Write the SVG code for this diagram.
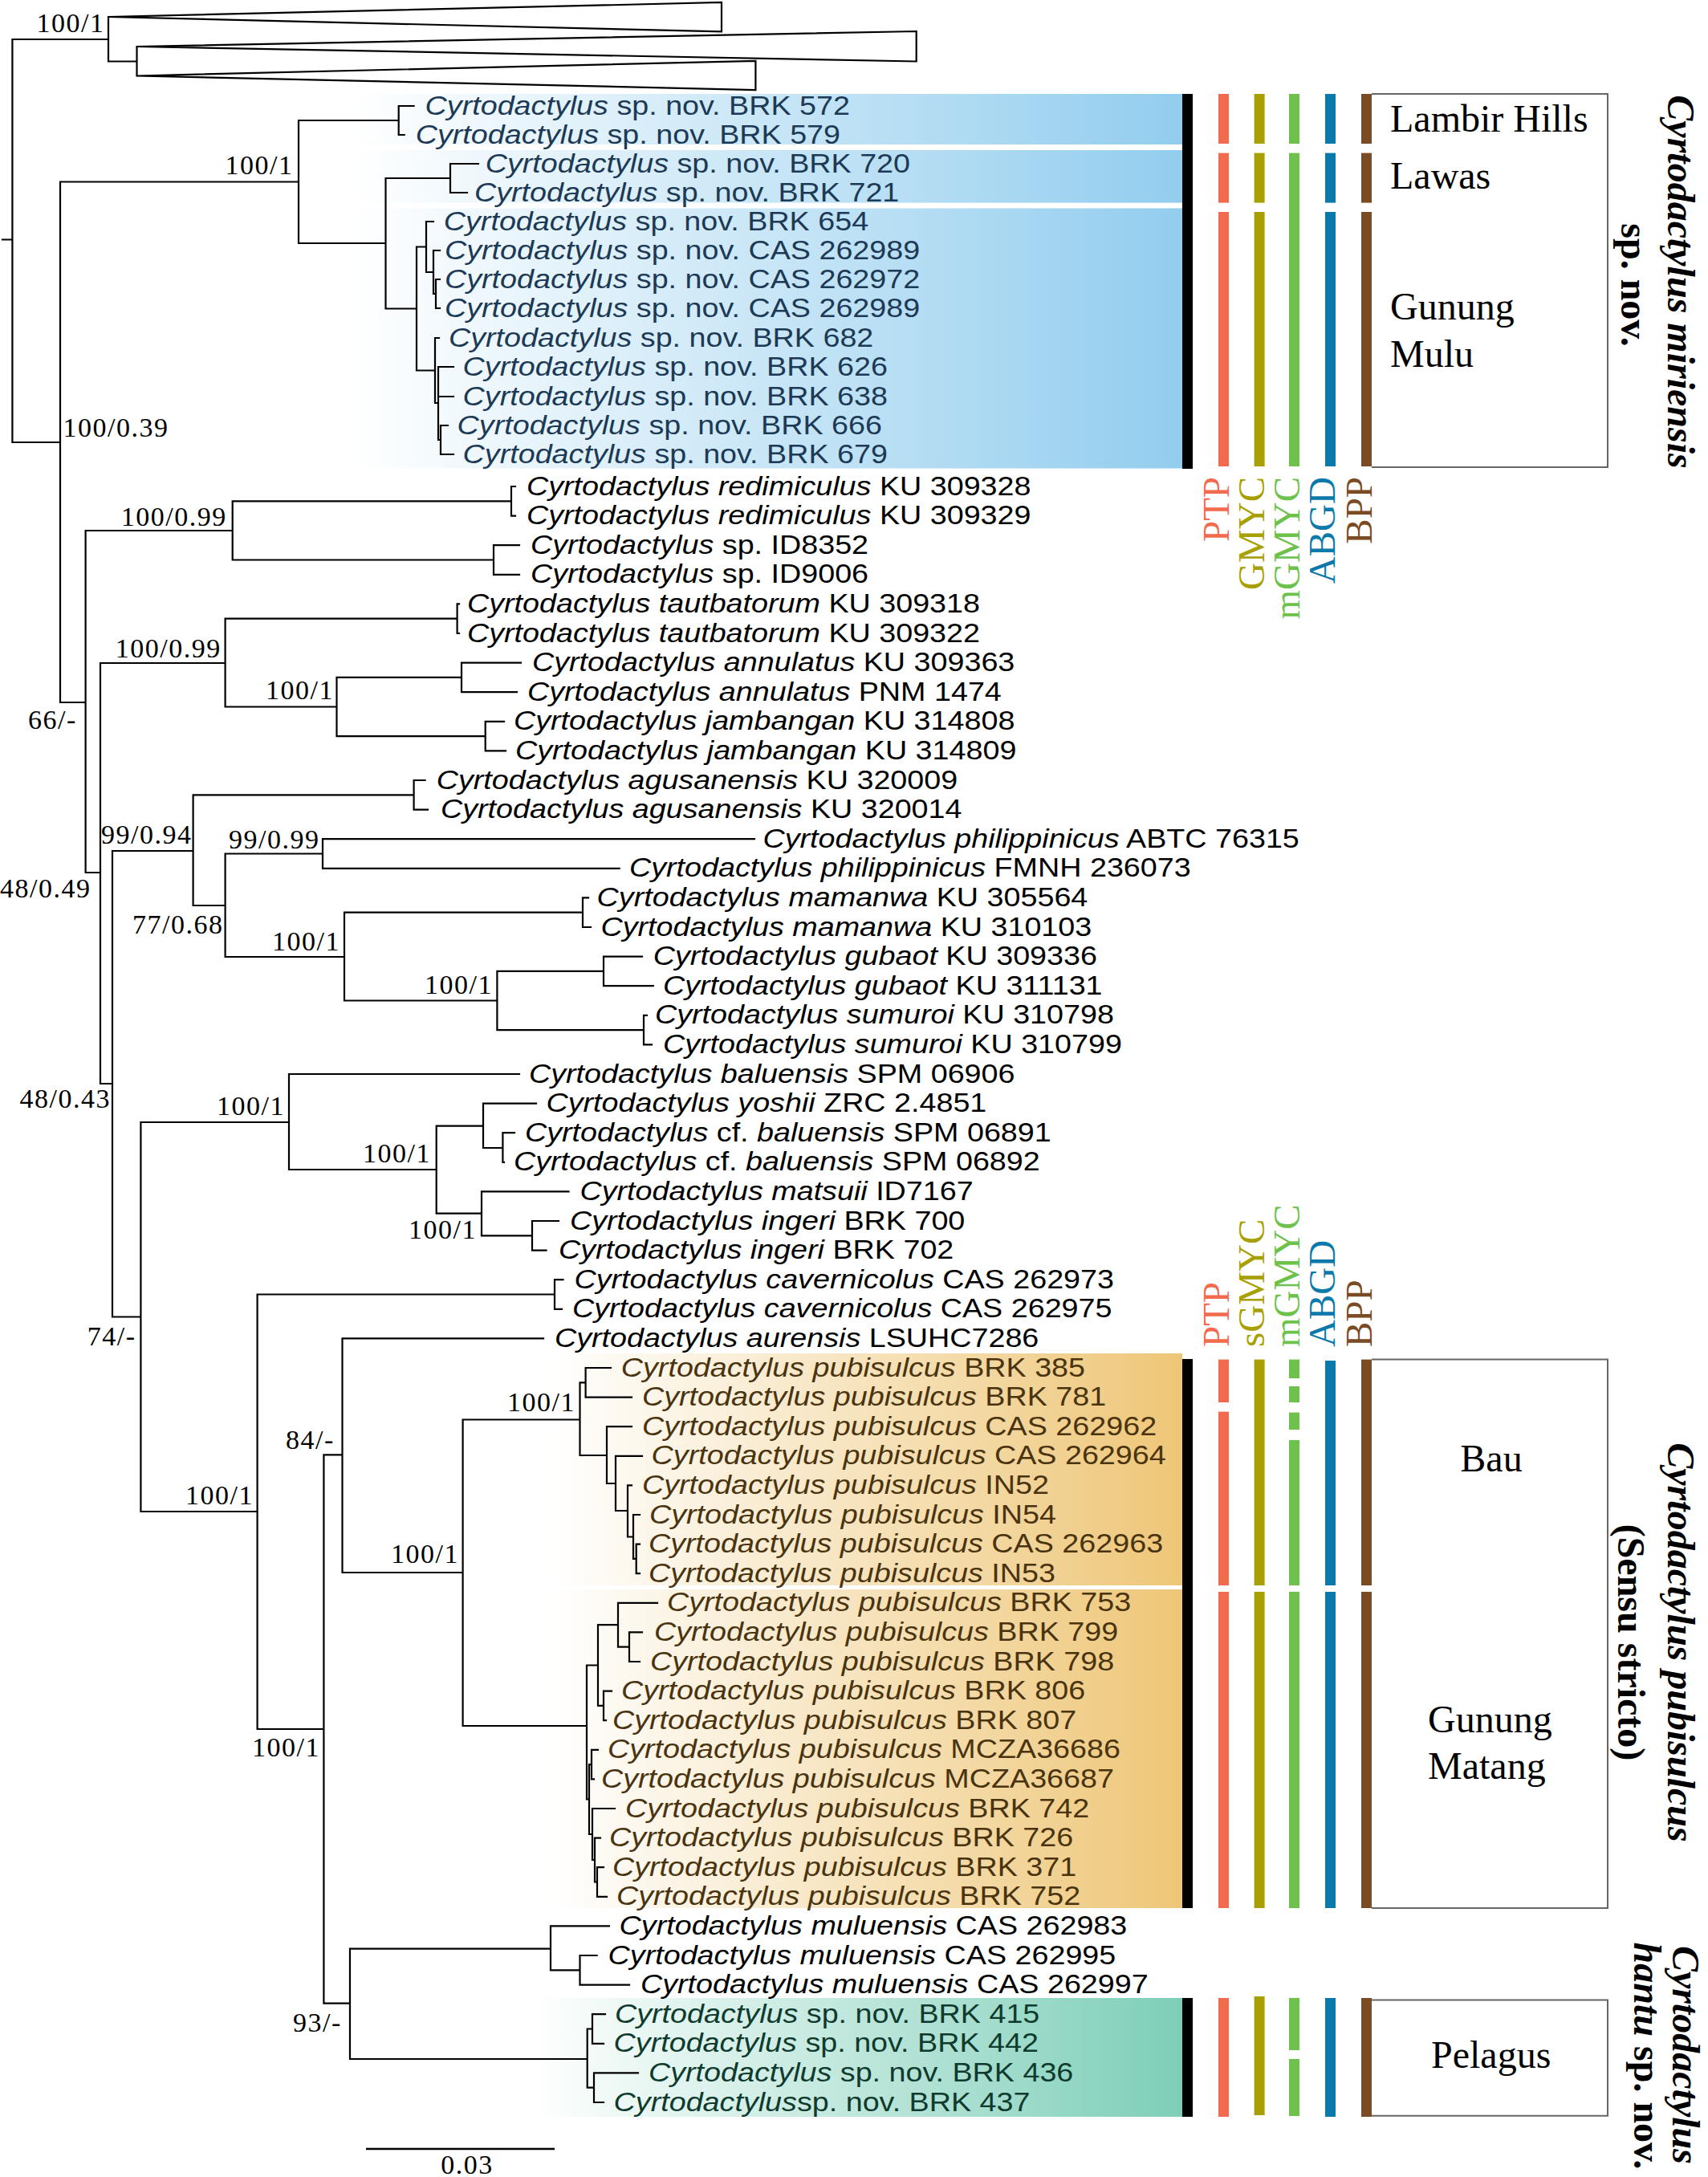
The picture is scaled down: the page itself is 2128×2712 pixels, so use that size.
<svg xmlns="http://www.w3.org/2000/svg" width="2128" height="2712" viewBox="0 0 2128 2712">
<defs>
<style>
.lf{font-family:"Liberation Sans",Arial,sans-serif;font-size:32.5px;fill:#000}
.i{font-style:italic}
.b{fill:#1c3a55}
.o{fill:#4a3410}
.g{fill:#0e3b2e}
.bs{font-family:"Liberation Serif","Times New Roman",serif;font-size:34px;letter-spacing:1.5px;fill:#000}
.loc{font-family:"Liberation Serif","Times New Roman",serif;font-size:48px;fill:#000}
.hd{font-family:"Liberation Serif","Times New Roman",serif;font-size:47px}
.ttl{font-family:"Liberation Serif","Times New Roman",serif;font-size:48px;font-weight:bold;fill:#000}
.edge{fill:none;stroke:#000;stroke-width:2.2;stroke-linecap:square}
.tri{fill:none;stroke:#000;stroke-width:2.2;stroke-linejoin:miter}
.box{fill:none;stroke:#666;stroke-width:2}
.ptp{fill:#f26b4e}.gm{fill:#a89f00}.mg{fill:#6cc24a}.ab{fill:#0b79a9}.bp{fill:#7b4b24}
</style>
<linearGradient id="gBlue" gradientUnits="userSpaceOnUse" x1="440" y1="0" x2="1473" y2="0">
<stop offset="0" stop-color="#ffffff"/><stop offset="1" stop-color="#92cdee"/>
</linearGradient>
<linearGradient id="gOr" gradientUnits="userSpaceOnUse" x1="690" y1="0" x2="1473" y2="0">
<stop offset="0" stop-color="#ffffff"/><stop offset="1" stop-color="#eec677"/>
</linearGradient>
<linearGradient id="gGr" gradientUnits="userSpaceOnUse" x1="666" y1="0" x2="1473" y2="0">
<stop offset="0" stop-color="#ffffff"/><stop offset="1" stop-color="#7dceb8"/>
</linearGradient>
</defs>
<rect width="2128" height="2712" fill="#fff"/>

<g id="highlights">
<rect x="440" y="117" width="1033" height="63" fill="url(#gBlue)"/>
<rect x="440" y="187" width="1033" height="65.6" fill="url(#gBlue)"/>
<rect x="440" y="259.5" width="1033" height="324" fill="url(#gBlue)"/>
<rect x="690" y="1686" width="783" height="289" fill="url(#gOr)"/>
<rect x="690" y="1980" width="783" height="397" fill="url(#gOr)"/>
<rect x="666" y="2489" width="807" height="148" fill="url(#gGr)"/>
</g>

<g id="connectors">
<polygon class="tri" points="135,21 899,3 899,39.4"/>
<polygon class="tri" points="170.5,58 1141.7,39 1141.7,76.5"/>
<polygon class="tri" points="170.5,94.5 941.4,75.8 941.4,112"/>
<path class="edge" d="M3,298.5 H15.4 M15.4,49 V551 M15.4,49 H135 M135,21 V76.5 M135,76.5 H170.5 M170.5,58 V94.5
M15.4,551 H75 M75,226.5 V875 M75,226.5 H372 M372,150 V303 M372,150 H496.7 M496.7,132 V168 M496.7,132 H515.6 M496.7,168 H503.7
M372,303 H480.5 M480.5,222 V384.5 M480.5,222 H561 M561,204 V240 M561,204 H596 M561,240 H582
M480.5,384.5 H519 M519,307.5 V461.5 M519,307.5 H531 M531,276 V339 M531,276 H540 M531,339 H540 M540,312 V366 M540,312 H548 M540,366 H543 M543,348 V384 M543,348 H548 M543,384 H548
M519,461.5 H542 M542,421 V502 M542,421 H547 M542,502 H546 M546,457 V548 M546,457 H565 M546,494 H565 M546,548 H549 M549,530 V566 M549,530 H558 M549,566 H565
M75,875 H106.6 M106.6,661 V1087 M106.6,661 H289.7 M289.7,624.3 V697.5 M289.7,624.3 H637 M637,606 V642.6 M637,606 H642 M637,642.6 H642
M289.7,697.5 H615 M615,679.2 V715.8 M615,679.2 H647 M615,715.8 H647
M106.6,1087 H125 M125,826 V1350 M125,826 H280.6 M280.6,770.7 V880.5 M280.6,770.7 H569.6 M569.6,752.4 V789 M569.6,752.4 H572 M569.6,789 H572
M280.6,880.5 H419.5 M419.5,843.9 V917.1 M419.5,843.9 H575 M575,825.6 V862.2 M575,825.6 H649 M575,862.2 H644
M419.5,917.1 H604.7 M604.7,898.8 V935.4 M604.7,898.8 H628 M604.7,935.4 H630
M125,1350 H140 M140,1060 V1640.5 M140,1060 H240.6 M240.6,990.3 V1128 M240.6,990.3 H515.6 M515.6,972 V1008.6 M515.6,972 H529.6 M515.6,1008.6 H533
M240.6,1128 H280.6 M280.6,1063.5 V1192 M280.6,1063.5 H402 M402,1045.2 V1081.8 M402,1045.2 H940 M402,1081.8 H771.6
M280.6,1192 H429 M429,1136.7 V1246.5 M429,1136.7 H726 M726,1118.4 V1155 M726,1118.4 H733 M726,1155 H736
M429,1246.5 H619.4 M619.4,1209.9 V1283.1 M619.4,1209.9 H752 M752,1191.6 V1228.2 M752,1191.6 H800 M752,1228.2 H813.8
M619.4,1283.1 H802 M802,1264.8 V1301.4 M802,1264.8 H806 M802,1301.4 H812
M140,1640.5 H175.4 M175.4,1398 V1883 M175.4,1398 H360 M360,1338 V1457 M360,1338 H647 M360,1457 H543.7
M543.7,1402.7 V1511.6 M543.7,1402.7 H602 M602,1374.6 V1430 M602,1374.6 H668 M602,1430 H626.4 M626.4,1411.2 V1447.8 M626.4,1411.2 H641 M626.4,1447.8 H628
M543.7,1511.6 H600 M600,1484.4 V1539.3 M600,1484.4 H708.5 M600,1539.3 H663 M663,1521 V1557.6 M663,1521 H696 M663,1557.6 H680.5
M175.4,1883 H320.6 M320.6,1612.5 V2154 M320.6,1612.5 H691 M691,1594.2 V1630.8 M691,1594.2 H701.5 M691,1630.8 H700
M320.6,2154 H403.4 M403.4,1812.4 V2495.6 M403.4,1812.4 H426.5 M426.5,1667.4 V1959 M426.5,1667.4 H677 M426.5,1959 H576.6
M576.6,1768.5 V2150 M576.6,1768.5 H722.5 M722.5,1722.3 V1813 M722.5,1722.3 H729.6 M729.6,1704 V1740.6 M729.6,1704 H761 M729.6,1740.6 H787
M722.5,1813 H756 M756,1777.2 V1848 M756,1777.2 H787 M756,1848 H767 M767,1813.8 V1882 M767,1813.8 H800 M767,1882 H782
M782,1850.4 V1914.5 M782,1850.4 H787 M782,1914.5 H789 M789,1887 V1941.9 M789,1887 H797 M789,1941.9 H792.7 M792.7,1923.6 V1960.2 M792.7,1923.6 H797 M792.7,1960.2 H797
M576.6,2150 H731 M731,2074.5 V2241.5 M731,2074.5 H745 M745,2024.2 V2124.9 M745,2024.2 H770 M770,1996.8 V2051.7 M770,1996.8 H819 M770,2051.7 H784 M784,2033.4 V2070 M784,2033.4 H800 M784,2070 H797
M745,2124.9 H752 M752,2106.6 V2143.2 M752,2106.6 H762 M752,2143.2 H755
M731,2241.5 H734 M734,2198.1 V2285 M734,2198.1 H737 M737,2179.8 V2216.4 M737,2179.8 H745 M737,2216.4 H740
M734,2285 H738 M738,2253 V2317 M738,2253 H766 M738,2317 H741 M741,2289.6 V2344.5 M741,2289.6 H748 M741,2344.5 H744 M744,2326.2 V2362.8 M744,2326.2 H752 M744,2362.8 H756
M403.4,2495.6 H436 M436,2427.7 V2565 M436,2427.7 H686 M686,2399.4 V2454.3 M686,2399.4 H759 M686,2454.3 H722.5 M722.5,2436 V2472.6 M722.5,2436 H743.6 M722.5,2472.6 H784
M436,2565 H731.7 M731.7,2527.5 V2600.7 M731.7,2527.5 H738 M738,2509.2 V2545.8 M738,2509.2 H754 M738,2545.8 H752
M731.7,2600.7 H740 M740,2582.4 V2619 M740,2582.4 H795 M740,2619 H752"/>
</g>

<g id="support">
<text class="bs" x="45.6" y="40">100/1</text>
<text class="bs" x="280.6" y="217">100/1</text>
<text class="bs" x="78.6" y="544">100/0.39</text>
<text class="bs" x="150.8" y="655">100/0.99</text>
<text class="bs" x="143.8" y="819">100/0.99</text>
<text class="bs" x="331" y="871">100/1</text>
<text class="bs" x="35" y="908">66/-</text>
<text class="bs" x="126" y="1051">99/0.94</text>
<text class="bs" x="285" y="1057">99/0.99</text>
<text class="bs" x="0" y="1118">48/0.49</text>
<text class="bs" x="165" y="1162.5">77/0.68</text>
<text class="bs" x="339" y="1184">100/1</text>
<text class="bs" x="529" y="1238">100/1</text>
<text class="bs" x="24.5" y="1380">48/0.43</text>
<text class="bs" x="270" y="1388.5">100/1</text>
<text class="bs" x="452" y="1448">100/1</text>
<text class="bs" x="509" y="1542.7">100/1</text>
<text class="bs" x="108.7" y="1676">74/-</text>
<text class="bs" x="356" y="1805">84/-</text>
<text class="bs" x="632" y="1758">100/1</text>
<text class="bs" x="231" y="1874">100/1</text>
<text class="bs" x="487" y="1947">100/1</text>
<text class="bs" x="314" y="2188">100/1</text>
<text class="bs" x="365" y="2531">93/-</text>
</g>

<g id="leaves">
<g id="L1"><text class="lf b" transform="matrix(1.16 0 0 1 529.6 142.5)"><tspan class="i">Cyrtodactylus</tspan> sp. nov. BRK 572</text></g>
<g id="L2"><text class="lf b" transform="matrix(1.16 0 0 1 517.7 178.5)"><tspan class="i">Cyrtodactylus</tspan> sp. nov. BRK 579</text></g>
<g id="L3"><text class="lf b" transform="matrix(1.16 0 0 1 604.7 214.5)"><tspan class="i">Cyrtodactylus</tspan> sp. nov. BRK 720</text></g>
<g id="L4"><text class="lf b" transform="matrix(1.16 0 0 1 591 250.5)"><tspan class="i">Cyrtodactylus</tspan> sp. nov. BRK 721</text></g>
<g id="L5"><text class="lf b" transform="matrix(1.16 0 0 1 552.8 286.5)"><tspan class="i">Cyrtodactylus</tspan> sp. nov. BRK 654</text></g>
<g id="L6"><text class="lf b" transform="matrix(1.16 0 0 1 554 322.5)"><tspan class="i">Cyrtodactylus</tspan> sp. nov. CAS 262989</text></g>
<g id="L7"><text class="lf b" transform="matrix(1.16 0 0 1 554 358.5)"><tspan class="i">Cyrtodactylus</tspan> sp. nov. CAS 262972</text></g>
<g id="L8"><text class="lf b" transform="matrix(1.16 0 0 1 554 394.5)"><tspan class="i">Cyrtodactylus</tspan> sp. nov. CAS 262989</text></g>
<g id="L9"><text class="lf b" transform="matrix(1.16 0 0 1 559 431.5)"><tspan class="i">Cyrtodactylus</tspan> sp. nov. BRK 682</text></g>
<g id="L10"><text class="lf b" transform="matrix(1.16 0 0 1 576.6 467.5)"><tspan class="i">Cyrtodactylus</tspan> sp. nov. BRK 626</text></g>
<g id="L11"><text class="lf b" transform="matrix(1.16 0 0 1 576.6 504.5)"><tspan class="i">Cyrtodactylus</tspan> sp. nov. BRK 638</text></g>
<g id="L12"><text class="lf b" transform="matrix(1.16 0 0 1 569.6 540.5)"><tspan class="i">Cyrtodactylus</tspan> sp. nov. BRK 666</text></g>
<g id="L13"><text class="lf b" transform="matrix(1.16 0 0 1 576.6 576.5)"><tspan class="i">Cyrtodactylus</tspan> sp. nov. BRK 679</text></g>
<g id="L14"><text class="lf" transform="matrix(1.16 0 0 1 656 616.5)"><tspan class="i">Cyrtodactylus redimiculus</tspan> KU 309328</text></g>
<g id="L15"><text class="lf" transform="matrix(1.16 0 0 1 656 653.1)"><tspan class="i">Cyrtodactylus redimiculus</tspan> KU 309329</text></g>
<g id="L16"><text class="lf" transform="matrix(1.16 0 0 1 661 689.7)"><tspan class="i">Cyrtodactylus</tspan> sp. ID8352</text></g>
<g id="L17"><text class="lf" transform="matrix(1.16 0 0 1 661 726.3)"><tspan class="i">Cyrtodactylus</tspan> sp. ID9006</text></g>
<g id="L18"><text class="lf" transform="matrix(1.16 0 0 1 582 762.9)"><tspan class="i">Cyrtodactylus tautbatorum</tspan> KU 309318</text></g>
<g id="L19"><text class="lf" transform="matrix(1.16 0 0 1 582 799.5)"><tspan class="i">Cyrtodactylus tautbatorum</tspan> KU 309322</text></g>
<g id="L20"><text class="lf" transform="matrix(1.16 0 0 1 663 836.1)"><tspan class="i">Cyrtodactylus annulatus</tspan> KU 309363</text></g>
<g id="L21"><text class="lf" transform="matrix(1.16 0 0 1 657 872.7)"><tspan class="i">Cyrtodactylus annulatus</tspan> PNM 1474</text></g>
<g id="L22"><text class="lf" transform="matrix(1.16 0 0 1 640 909.3)"><tspan class="i">Cyrtodactylus jambangan</tspan> KU 314808</text></g>
<g id="L23"><text class="lf" transform="matrix(1.16 0 0 1 642 945.9)"><tspan class="i">Cyrtodactylus jambangan</tspan> KU 314809</text></g>
<g id="L24"><text class="lf" transform="matrix(1.16 0 0 1 543.7 982.5)"><tspan class="i">Cyrtodactylus agusanensis</tspan> KU 320009</text></g>
<g id="L25"><text class="lf" transform="matrix(1.16 0 0 1 549 1019.1)"><tspan class="i">Cyrtodactylus agusanensis</tspan> KU 320014</text></g>
<g id="L26"><text class="lf" transform="matrix(1.16 0 0 1 950.5 1055.7)"><tspan class="i">Cyrtodactylus philippinicus</tspan> ABTC 76315</text></g>
<g id="L27"><text class="lf" transform="matrix(1.16 0 0 1 784 1092.3)"><tspan class="i">Cyrtodactylus philippinicus</tspan> FMNH 236073</text></g>
<g id="L28"><text class="lf" transform="matrix(1.16 0 0 1 743.6 1128.9)"><tspan class="i">Cyrtodactylus mamanwa</tspan> KU 305564</text></g>
<g id="L29"><text class="lf" transform="matrix(1.16 0 0 1 748.5 1165.5)"><tspan class="i">Cyrtodactylus mamanwa</tspan> KU 310103</text></g>
<g id="L30"><text class="lf" transform="matrix(1.16 0 0 1 813.8 1202.1)"><tspan class="i">Cyrtodactylus gubaot</tspan> KU 309336</text></g>
<g id="L31"><text class="lf" transform="matrix(1.16 0 0 1 826 1238.7)"><tspan class="i">Cyrtodactylus gubaot</tspan> KU 311131</text></g>
<g id="L32"><text class="lf" transform="matrix(1.16 0 0 1 816 1275.3)"><tspan class="i">Cyrtodactylus sumuroi</tspan> KU 310798</text></g>
<g id="L33"><text class="lf" transform="matrix(1.16 0 0 1 826 1311.9)"><tspan class="i">Cyrtodactylus sumuroi</tspan> KU 310799</text></g>
<g id="L34"><text class="lf" transform="matrix(1.16 0 0 1 659 1348.5)"><tspan class="i">Cyrtodactylus baluensis</tspan> SPM 06906</text></g>
<g id="L35"><text class="lf" transform="matrix(1.16 0 0 1 680.5 1385.1)"><tspan class="i">Cyrtodactylus yoshii</tspan> ZRC 2.4851</text></g>
<g id="L36"><text class="lf" transform="matrix(1.16 0 0 1 654 1421.7)"><tspan class="i">Cyrtodactylus</tspan> cf. <tspan class="i">baluensis</tspan> SPM 06891</text></g>
<g id="L37"><text class="lf" transform="matrix(1.16 0 0 1 640 1458.3)"><tspan class="i">Cyrtodactylus</tspan> cf. <tspan class="i">baluensis</tspan> SPM 06892</text></g>
<g id="L38"><text class="lf" transform="matrix(1.16 0 0 1 722.5 1494.9)"><tspan class="i">Cyrtodactylus matsuii</tspan> ID7167</text></g>
<g id="L39"><text class="lf" transform="matrix(1.16 0 0 1 710 1531.5)"><tspan class="i">Cyrtodactylus ingeri</tspan> BRK 700</text></g>
<g id="L40"><text class="lf" transform="matrix(1.16 0 0 1 696 1568.1)"><tspan class="i">Cyrtodactylus ingeri</tspan> BRK 702</text></g>
<g id="L41"><text class="lf" transform="matrix(1.16 0 0 1 715.5 1604.7)"><tspan class="i">Cyrtodactylus cavernicolus</tspan> CAS 262973</text></g>
<g id="L42"><text class="lf" transform="matrix(1.16 0 0 1 713 1641.3)"><tspan class="i">Cyrtodactylus cavernicolus</tspan> CAS 262975</text></g>
<g id="L43"><text class="lf" transform="matrix(1.16 0 0 1 691 1677.9)"><tspan class="i">Cyrtodactylus aurensis</tspan> LSUHC7286</text></g>
<g id="L44"><text class="lf o" transform="matrix(1.16 0 0 1 773.8 1714.5)"><tspan class="i">Cyrtodactylus pubisulcus</tspan> BRK 385</text></g>
<g id="L45"><text class="lf o" transform="matrix(1.16 0 0 1 800 1751.1)"><tspan class="i">Cyrtodactylus pubisulcus</tspan> BRK 781</text></g>
<g id="L46"><text class="lf o" transform="matrix(1.16 0 0 1 800 1787.7)"><tspan class="i">Cyrtodactylus pubisulcus</tspan> CAS 262962</text></g>
<g id="L47"><text class="lf o" transform="matrix(1.16 0 0 1 811.6 1824.3)"><tspan class="i">Cyrtodactylus pubisulcus</tspan> CAS 262964</text></g>
<g id="L48"><text class="lf o" transform="matrix(1.16 0 0 1 800 1860.9)"><tspan class="i">Cyrtodactylus pubisulcus</tspan> IN52</text></g>
<g id="L49"><text class="lf o" transform="matrix(1.16 0 0 1 809 1897.5)"><tspan class="i">Cyrtodactylus pubisulcus</tspan> IN54</text></g>
<g id="L50"><text class="lf o" transform="matrix(1.16 0 0 1 808 1934.1)"><tspan class="i">Cyrtodactylus pubisulcus</tspan> CAS 262963</text></g>
<g id="L51"><text class="lf o" transform="matrix(1.16 0 0 1 808 1970.7)"><tspan class="i">Cyrtodactylus pubisulcus</tspan> IN53</text></g>
<g id="L52"><text class="lf o" transform="matrix(1.16 0 0 1 831 2007.3)"><tspan class="i">Cyrtodactylus pubisulcus</tspan> BRK 753</text></g>
<g id="L53"><text class="lf o" transform="matrix(1.16 0 0 1 815 2043.9)"><tspan class="i">Cyrtodactylus pubisulcus</tspan> BRK 799</text></g>
<g id="L54"><text class="lf o" transform="matrix(1.16 0 0 1 810 2080.5)"><tspan class="i">Cyrtodactylus pubisulcus</tspan> BRK 798</text></g>
<g id="L55"><text class="lf o" transform="matrix(1.16 0 0 1 774 2117.1)"><tspan class="i">Cyrtodactylus pubisulcus</tspan> BRK 806</text></g>
<g id="L56"><text class="lf o" transform="matrix(1.16 0 0 1 763 2153.7)"><tspan class="i">Cyrtodactylus pubisulcus</tspan> BRK 807</text></g>
<g id="L57"><text class="lf o" transform="matrix(1.16 0 0 1 757 2190.3)"><tspan class="i">Cyrtodactylus pubisulcus</tspan> MCZA36686</text></g>
<g id="L58"><text class="lf o" transform="matrix(1.16 0 0 1 749 2226.9)"><tspan class="i">Cyrtodactylus pubisulcus</tspan> MCZA36687</text></g>
<g id="L59"><text class="lf o" transform="matrix(1.16 0 0 1 779 2263.5)"><tspan class="i">Cyrtodactylus pubisulcus</tspan> BRK 742</text></g>
<g id="L60"><text class="lf o" transform="matrix(1.16 0 0 1 759 2300.1)"><tspan class="i">Cyrtodactylus pubisulcus</tspan> BRK 726</text></g>
<g id="L61"><text class="lf o" transform="matrix(1.16 0 0 1 763 2336.7)"><tspan class="i">Cyrtodactylus pubisulcus</tspan> BRK 371</text></g>
<g id="L62"><text class="lf o" transform="matrix(1.16 0 0 1 768 2373.3)"><tspan class="i">Cyrtodactylus pubisulcus</tspan> BRK 752</text></g>
<g id="L63"><text class="lf" transform="matrix(1.16 0 0 1 771.6 2409.9)"><tspan class="i">Cyrtodactylus muluensis</tspan> CAS 262983</text></g>
<g id="L64"><text class="lf" transform="matrix(1.16 0 0 1 757.6 2446.5)"><tspan class="i">Cyrtodactylus muluensis</tspan> CAS 262995</text></g>
<g id="L65"><text class="lf" transform="matrix(1.16 0 0 1 798 2483.1)"><tspan class="i">Cyrtodactylus muluensis</tspan> CAS 262997</text></g>
<g id="L66"><text class="lf g" transform="matrix(1.16 0 0 1 766 2519.7)"><tspan class="i">Cyrtodactylus</tspan> sp. nov. BRK 415</text></g>
<g id="L67"><text class="lf g" transform="matrix(1.16 0 0 1 764.6 2556.3)"><tspan class="i">Cyrtodactylus</tspan> sp. nov. BRK 442</text></g>
<g id="L68"><text class="lf g" transform="matrix(1.16 0 0 1 808 2592.9)"><tspan class="i">Cyrtodactylus</tspan> sp. nov. BRK 436</text></g>
<g id="L69"><text class="lf g" transform="matrix(1.16 0 0 1 764.6 2629.5)"><tspan class="i">Cyrtodactylus</tspan>sp. nov. BRK 437</text></g>
</g>

<g id="delimitation-top">
<rect x="1473" y="117" width="13" height="467" fill="#000"/>
<rect class="ptp" x="1518" y="117" width="13" height="62"/><rect class="ptp" x="1518" y="190.6" width="13" height="62"/><rect class="ptp" x="1518" y="264" width="13" height="317"/>
<rect class="gm" x="1562.6" y="117" width="13" height="62"/><rect class="gm" x="1562.6" y="190.6" width="13" height="62"/><rect class="gm" x="1562.6" y="264" width="13" height="317"/>
<rect class="mg" x="1606" y="117" width="13" height="62"/><rect class="mg" x="1606" y="190.6" width="13" height="390.4"/>
<rect class="ab" x="1651" y="117" width="13" height="62"/><rect class="ab" x="1651" y="190.6" width="13" height="62"/><rect class="ab" x="1651" y="264" width="13" height="317"/>
<rect class="bp" x="1696" y="117" width="13" height="62"/><rect class="bp" x="1696" y="190.6" width="13" height="62"/><rect class="bp" x="1696" y="264" width="13" height="317"/>
<path class="box" d="M1709,117 H2003 V582 H1709"/>
<text class="loc" x="1732" y="164">Lambir Hills</text>
<text class="loc" x="1732" y="235">Lawas</text>
<text class="loc" x="1732" y="398">Gunung</text>
<text class="loc" x="1732" y="457">Mulu</text>
<g text-anchor="end">
<text class="hd" fill="#f26b4e" transform="translate(1531,594) rotate(-90)">PTP</text>
<text class="hd" fill="#a89f00" transform="translate(1575,594) rotate(-90)">GMYC</text>
<text class="hd" fill="#6cc24a" transform="translate(1618.5,594) rotate(-90)">mGMYC</text>
<text class="hd" fill="#0b79a9" transform="translate(1663,594) rotate(-90)">ABGD</text>
<text class="hd" fill="#7b4b24" transform="translate(1709,594) rotate(-90)">BPP</text>
</g>
<text class="ttl" text-anchor="middle" transform="translate(2078,351) rotate(90)"><tspan font-style="italic">Cyrtodactylus miriensis</tspan></text>
<text class="ttl" text-anchor="middle" transform="translate(2020,355) rotate(90)">sp. nov.</text>
</g>

<g id="delimitation-pubisulcus">
<g text-anchor="start">
<text class="hd" fill="#f26b4e" transform="translate(1531,1678) rotate(-90)">PTP</text>
<text class="hd" fill="#a89f00" transform="translate(1575,1678) rotate(-90)">sGMYC</text>
<text class="hd" fill="#6cc24a" transform="translate(1618.5,1678) rotate(-90)">mGMYC</text>
<text class="hd" fill="#0b79a9" transform="translate(1663,1678) rotate(-90)">ABGD</text>
<text class="hd" fill="#7b4b24" transform="translate(1709,1678) rotate(-90)">BPP</text>
</g>
<rect x="1473" y="1693" width="13" height="684" fill="#000"/>
<rect class="ptp" x="1518" y="1693.6" width="13" height="53.4"/><rect class="ptp" x="1518" y="1758.6" width="13" height="216.4"/><rect class="ptp" x="1518" y="1983" width="13" height="394"/>
<rect class="gm" x="1562.6" y="1693.6" width="13" height="281.4"/><rect class="gm" x="1562.6" y="1983" width="13" height="394"/>
<rect class="mg" x="1606" y="1693.6" width="13" height="23.4"/><rect class="mg" x="1606" y="1727" width="13" height="20"/><rect class="mg" x="1606" y="1759.6" width="13" height="21.4"/><rect class="mg" x="1606" y="1794" width="13" height="181"/><rect class="mg" x="1606" y="1983" width="13" height="394"/>
<rect class="ab" x="1651" y="1695" width="13" height="280"/><rect class="ab" x="1651" y="1983" width="13" height="394"/>
<rect class="bp" x="1696" y="1693.6" width="13" height="281.4"/><rect class="bp" x="1696" y="1983" width="13" height="394"/>
<path class="box" d="M1709,1693.6 H2003 V2377 H1709"/>
<text class="loc" x="1858" y="1833" text-anchor="middle">Bau</text>
<text class="loc" x="1779" y="2158">Gunung</text>
<text class="loc" x="1779" y="2216">Matang</text>
<text class="ttl" text-anchor="middle" transform="translate(2078,2046) rotate(90)"><tspan font-style="italic">Cyrtodactylus pubisulcus</tspan></text>
<text class="ttl" text-anchor="middle" transform="translate(2016,2046) rotate(90)">(Sensu stricto)</text>
</g>

<g id="delimitation-hantu">
<rect x="1473" y="2489" width="13" height="148" fill="#000"/>
<rect class="ptp" x="1518" y="2489" width="13" height="148"/>
<rect class="gm" x="1562.6" y="2487" width="13" height="148"/>
<rect class="mg" x="1606" y="2489" width="13" height="65"/><rect class="mg" x="1606" y="2565" width="13" height="71"/>
<rect class="ab" x="1651" y="2489" width="13" height="148"/>
<rect class="bp" x="1696" y="2489" width="13" height="148"/>
<path class="box" d="M1709,2491.5 H2003 V2635.7 H1709"/>
<text class="loc" x="1783" y="2576">Pelagus</text>
<text class="ttl" text-anchor="middle" transform="translate(2084,2560) rotate(90)"><tspan font-style="italic">Cyrtodactylus</tspan></text>
<text class="ttl" text-anchor="middle" transform="translate(2036,2561) rotate(90)"><tspan font-style="italic">hantu</tspan> sp. nov.</text>
</g>

<g id="scalebar">
<path d="M456,2677 H691" stroke="#000" stroke-width="2.5"/>
<text class="bs" x="582" y="2708" text-anchor="middle">0.03</text>
</g>
</svg>
